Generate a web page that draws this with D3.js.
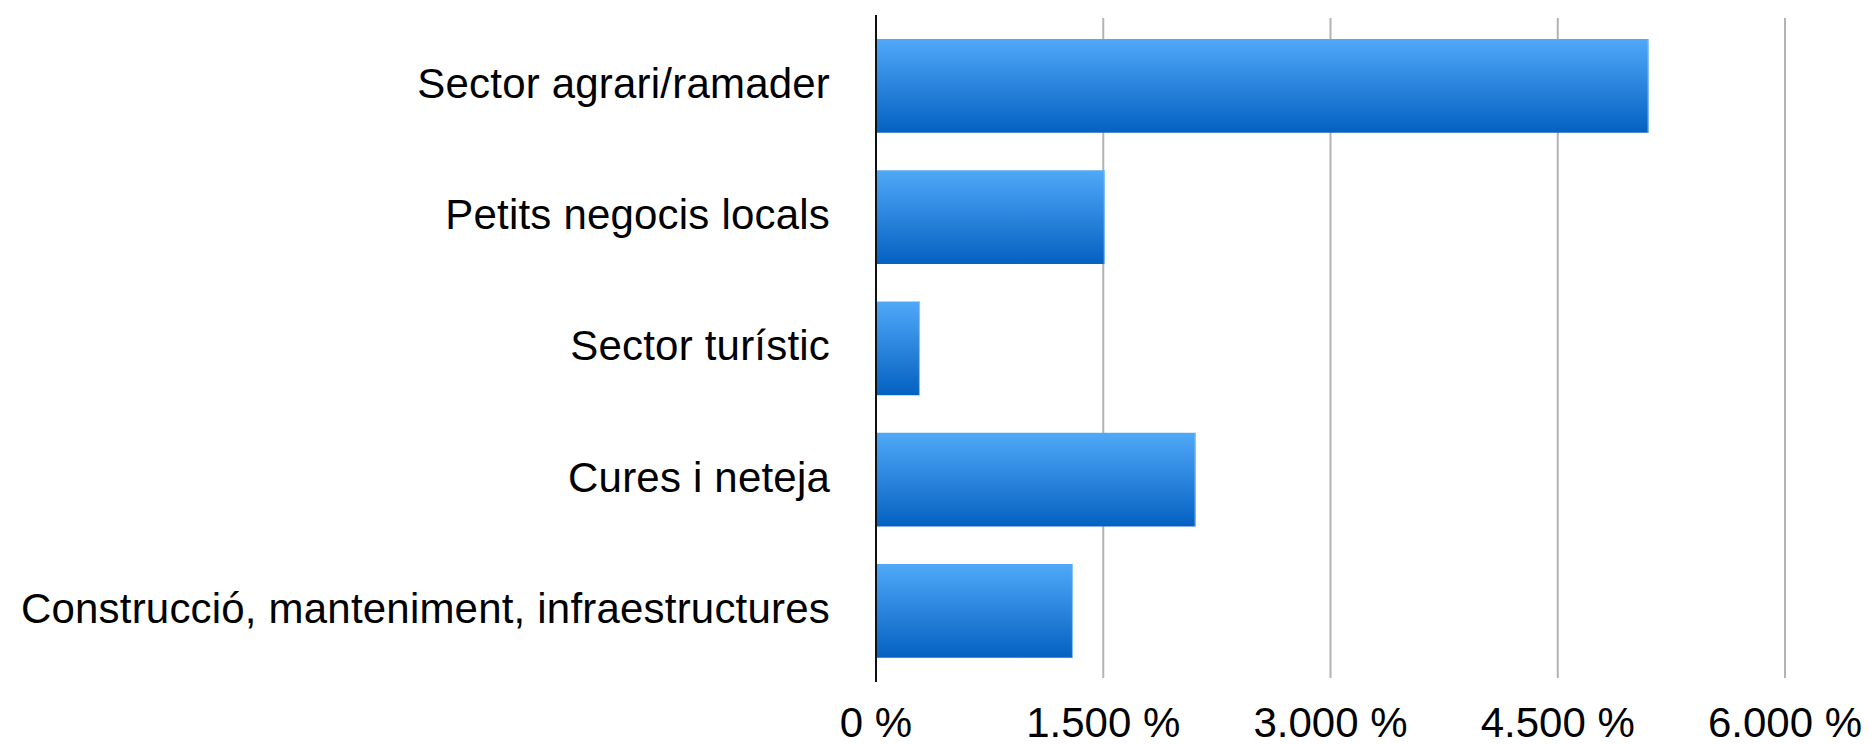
<!DOCTYPE html>
<html>
<head>
<meta charset="utf-8">
<script src="https://cdn.jsdelivr.net/npm/d3@7"></script>
<style>
  html, body { margin: 0; padding: 0; background: #ffffff; }
  svg { display: block; }
  text { font-family: "Liberation Sans", Arial, Helvetica, sans-serif; fill: #000; }
</style>
</head>
<body>
<svg id="chart" width="1870" height="744"></svg>
<script>
// Sectors, top to bottom
const categories = [
  "Sector agrari/ramader",
  "Petits negocis locals",
  "Sector turístic",
  "Cures i neteja",
  "Construcció, manteniment, infraestructures"
];
// Values per sector
const values = [5100, 1510, 290, 2110, 1300];
// Axis ticks
const tickValues = [0, 1500, 3000, 4500, 6000];

const svg = d3.select("#chart");

const x = d3.scaleLinear().domain([0, 6000]).range([876, 1785]);
const y = d3.scaleBand().domain(categories).range([20.25, 676.5])
  .paddingInner(0.286).paddingOuter(0.143);

// Catalan number format: dot as thousands separator
const locale = d3.formatLocale({ decimal: ",", thousands: ".", grouping: [3], currency: ["", " €"] });
const fmt = v => locale.format(",")(v) + " %";

// Gradient for bars
const defs = svg.append("defs");
const grad = defs.append("linearGradient").attr("id", "barGrad")
  .attr("x1", 0).attr("y1", 0).attr("x2", 0).attr("y2", 1);
grad.append("stop").attr("offset", "0%").attr("stop-color", "#50a8f8");
grad.append("stop").attr("offset", "100%").attr("stop-color", "#0461c1");

// Vertical gridlines
svg.append("g").selectAll("line")
  .data(tickValues.filter(d => d > 0))
  .join("line")
  .attr("x1", d => x(d)).attr("x2", d => x(d))
  .attr("y1", 18).attr("y2", 678)
  .attr("stroke", "#b3b3b3").attr("stroke-width", 2);

// Bars
const bars = svg.append("g");
bars.selectAll("rect")
  .data(values)
  .join("rect")
  .attr("x", x(0))
  .attr("y", (d, i) => y(categories[i]))
  .attr("width", d => x(d) - x(0))
  .attr("height", y.bandwidth())
  .attr("fill", "url(#barGrad)");
// thin light edge at bar ends
bars.selectAll("line")
  .data(values)
  .join("line")
  .attr("x1", d => x(d) - 0.5).attr("x2", d => x(d) - 0.5)
  .attr("y1", (d, i) => y(categories[i]))
  .attr("y2", (d, i) => y(categories[i]) + y.bandwidth())
  .attr("stroke", "#8cc6fb").attr("stroke-width", 1);

// Vertical axis line
svg.append("line")
  .attr("x1", x(0)).attr("x2", x(0))
  .attr("y1", 15).attr("y2", 682)
  .attr("stroke", "#111").attr("stroke-width", 2);

// Category labels
svg.append("g").selectAll("text")
  .data(categories)
  .join("text")
  .attr("x", x(0) - 46)
  .attr("y", d => y(d) + y.bandwidth() / 2 + 12)
  .attr("text-anchor", "end")
  .attr("font-size", 42)
  .attr("letter-spacing", 0.2)
  .text(d => d);

// Tick labels
svg.append("g").selectAll("text")
  .data(tickValues)
  .join("text")
  .attr("x", d => x(d))
  .attr("y", 736.5)
  .attr("text-anchor", "middle")
  .attr("font-size", 42)
  .text(d => fmt(d));
</script>
</body>
</html>
